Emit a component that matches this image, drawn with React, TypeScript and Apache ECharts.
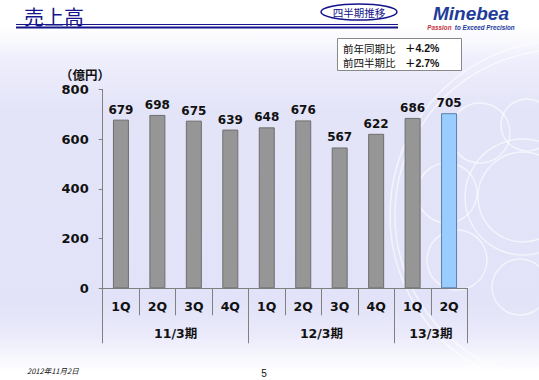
import React, { useEffect, useRef } from "react";
import * as echarts from "echarts";

const categories = ["1Q", "2Q", "3Q", "4Q", "1Q", "2Q", "3Q", "4Q", "1Q", "2Q"];
const sales = [679, 698, 675, 639, 648, 676, 567, 622, 686, 705];
const fiscalYears = ["11/3期", "12/3期", "13/3期"];
const yearSpans = [4, 4, 2];
const yMin = 0;
const yMax = 800;
const yStep = 200;
const unitLabel = "（億円）";
const titleText = "売上高";
const badgeText = "四半期推移";
const compareLabels = ["前年同期比", "前四半期比"];
const compareValues = ["＋4.2%", "＋2.7%"];
const footerDate = "2012年11月2日";
const pageNo = "5";

const FONT = "'DejaVu Sans', 'Noto Sans CJK JP', sans-serif";
const JP = "'Noto Sans CJK JP', sans-serif";
const NAVY = "#14148c";

export default function App() {
  const ref = useRef<HTMLDivElement>(null);
  useEffect(() => {
    if (!ref.current) return;
    const chart = echarts.init(ref.current, null, { renderer: "svg" });

    const boundaries = new Set<number>();
    const yearCenters: Record<number, string> = {};
    let acc = 0;
    yearSpans.forEach((s, i) => {
      boundaries.add(acc);
      yearCenters[acc + s / 2] = fiscalYears[i];
      acc += s;
    });
    const lastIdx = sales.length - 1;

    const circles = [
      { cx: 480, cy: 133, r: 30 },
      { cx: 447, cy: 193, r: 30 },
      { cx: 457, cy: 260, r: 30 },
      { cx: 523, cy: 197, r: 45 },
      { cx: 523, cy: 197, r: 58 },
      { cx: 520, cy: 287, r: 28 },
      { cx: 527, cy: 125, r: 26 },
      { cx: 560, cy: 215, r: 165 },
      { cx: 565, cy: 215, r: 175 },
    ];

    chart.setOption({
      animation: false,
      backgroundColor: "transparent",
      grid: { left: 102.7, right: 71.7, top: 89.6, bottom: 91.7 },
      xAxis: [
        {
          type: "category",
          data: categories,
          position: "bottom",
          axisLine: { show: true, lineStyle: { color: "#808080", width: 1 } },
          axisTick: { show: true, interval: 0, length: 27, lineStyle: { color: "#808080" } },
          axisLabel: {
            interval: 0,
            margin: 12,
            fontFamily: FONT,
            fontWeight: "bold",
            fontSize: 12.5,
            color: "#111",
          },
        },
        {
          type: "category",
          data: categories,
          position: "bottom",
          axisLine: { show: false },
          axisTick: {
            show: true,
            length: 55,
            interval: (idx: number) => boundaries.has(idx),
            lineStyle: { color: "#808080" },
          },
          axisLabel: { show: false },
        },
        {
          type: "value",
          min: 0,
          max: sales.length,
          interval: 1,
          position: "bottom",
          axisLine: { show: false },
          axisTick: { show: false },
          splitLine: { show: false },
          axisLabel: {
            margin: 39,
            fontFamily: FONT,
            fontWeight: "bold",
            fontSize: 12.5,
            color: "#111",
            formatter: (v: number) => yearCenters[v] || "",
          },
        },
      ],
      yAxis: {
        type: "value",
        min: yMin,
        max: yMax,
        interval: yStep,
        axisLine: { show: true, lineStyle: { color: "#808080" } },
        axisTick: { show: true, length: 4, lineStyle: { color: "#808080" } },
        splitLine: { show: false },
        axisLabel: {
          margin: 14,
          fontFamily: FONT,
          fontWeight: "bold",
          fontSize: 13,
          color: "#111",
        },
      },
      series: [
        {
          type: "bar",
          xAxisIndex: 0,
          barWidth: 16,
          data: sales.map((v, i) => ({
            value: v,
            itemStyle:
              i === lastIdx
                ? { color: "#99ccff", borderColor: "#5a7fa8", borderWidth: 1 }
                : { color: "#969696", borderColor: "#6e6e6e", borderWidth: 1 },
          })),
          label: {
            show: true,
            position: "top",
            distance: 4,
            fontFamily: FONT,
            fontWeight: "bold",
            fontSize: 12,
            color: "#111",
          },
        },
      ],
      graphic: [
        ...circles.map((c) => ({
          type: "circle",
          z: -10,
          silent: true,
          shape: { cx: c.cx, cy: c.cy, r: c.r },
          style: { fill: "none", stroke: "rgba(255,255,255,0.6)", lineWidth: 1.5 },
        })),
        {
          type: "text",
          left: 24,
          top: 6,
          style: { text: titleText, font: `20px ${JP}`, fill: NAVY },
        },
        {
          type: "line",
          shape: { x1: 16, y1: 24.5, x2: 398, y2: 24.5 },
          style: { stroke: NAVY, lineWidth: 1 },
        },
        {
          type: "line",
          shape: { x1: 16, y1: 27.5, x2: 398, y2: 27.5 },
          style: { stroke: NAVY, lineWidth: 2 },
        },
        {
          type: "ellipse",
          shape: { cx: 359, cy: 12, rx: 38, ry: 8 },
          style: { fill: "#fff", stroke: NAVY, lineWidth: 1.5 },
        },
        {
          type: "text",
          x: 359,
          y: 12,
          style: {
            text: badgeText,
            font: `10.5px ${JP}`,
            fill: NAVY,
            align: "center",
            verticalAlign: "middle",
          },
        },
        {
          type: "text",
          x: 471,
          y: 13,
          style: {
            text: "Minebea",
            font: "italic bold 19px 'Liberation Sans', sans-serif",
            fill: "#1e3c9a",
            align: "center",
            verticalAlign: "middle",
          },
        },
        {
          type: "text",
          x: 471,
          y: 27,
          style: {
            text: "{r|Passion} {b|to Exceed Precision}",
            align: "center",
            verticalAlign: "middle",
            rich: {
              r: { font: "italic bold 6.3px 'Liberation Sans', sans-serif", fill: "#c8323c" },
              b: { font: "italic bold 6.3px 'Liberation Sans', sans-serif", fill: "#1e3c9a" },
            },
          },
        },
        {
          type: "rect",
          shape: { x: 337.5, y: 38.5, width: 124, height: 32 },
          style: { fill: "#fff", stroke: "#888", lineWidth: 1 },
        },
        ...compareLabels.map((t, i) => ({
          type: "text",
          x: 343,
          y: 48 + i * 14.5,
          style: { text: t, font: `10.5px ${JP}`, fill: "#111", verticalAlign: "middle" },
        })),
        ...compareValues.map((t, i) => ({
          type: "text",
          x: 405,
          y: 48 + i * 14.5,
          style: {
            text: t,
            font: "bold 10.5px 'Liberation Sans', 'Noto Sans CJK JP', sans-serif",
            fill: "#111",
            verticalAlign: "middle",
          },
        })),
        {
          type: "text",
          x: 60,
          y: 74,
          style: {
            text: unitLabel,
            font: `bold 12.5px ${JP}`,
            fill: "#111",
            verticalAlign: "middle",
          },
        },
        {
          type: "text",
          x: 27,
          y: 370,
          style: {
            text: footerDate,
            font: `italic 7.5px ${JP}`,
            fill: "#111",
            verticalAlign: "middle",
          },
        },
        {
          type: "text",
          x: 264,
          y: 373,
          style: {
            text: pageNo,
            font: "10px 'Liberation Sans', sans-serif",
            fill: "#111",
            align: "center",
            verticalAlign: "middle",
          },
        },
      ],
    });
    return () => chart.dispose();
  }, []);

  return (
    <div
      style={{
        position: "fixed",
        left: 0,
        top: 0,
        width: 539,
        height: 380,
        background:
          "linear-gradient(to bottom, #ffffff 0px, #ffffff 28px, #eeeefc 60px, #e4e4f9 110px, #e2e2f8 300px, #eaeafb 335px, #ffffff 372px)",
      }}
    >
      <div ref={ref} style={{ width: 539, height: 380 }} />
    </div>
  );
}
